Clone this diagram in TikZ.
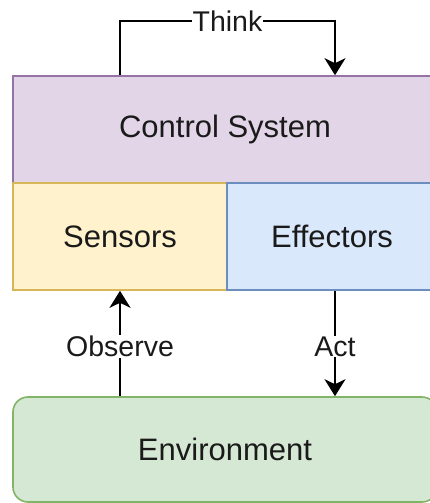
\documentclass[tikz,border=0pt]{standalone}
\usepackage{fontspec}
\setmainfont{Liberation Sans}
\usetikzlibrary{arrows.meta,calc}
\definecolor{pfill}{HTML}{E1D5E7}\definecolor{pdraw}{HTML}{9673A6}
\definecolor{yfill}{HTML}{FFF2CC}\definecolor{ydraw}{HTML}{D6B656}
\definecolor{bfill}{HTML}{DAE8FC}\definecolor{bdraw}{HTML}{6C8EBF}
\definecolor{gfill}{HTML}{D5E8D4}\definecolor{gdraw}{HTML}{82B366}
\definecolor{txt}{HTML}{1A1A1A}
\tikzset{
  box/.style={draw, line width=1.6pt, inner sep=0pt, text=txt, font=\fontsize{31}{36}\selectfont},
  conn/.style={line width=2pt, -{Stealth[length=17pt,width=21pt,inset=5pt]}},
  lbl/.style={fill=white, inner sep=1pt, text=txt, font=\fontsize{28.5}{33}\selectfont}
}
\begin{document}
\begin{tikzpicture}[x=1pt,y=-1pt]
\useasboundingbox (0,0) rectangle (430,503);
\node[box, fill=pfill, draw=pdraw, minimum width=424pt, minimum height=107pt] (ctrl) at (225,129.5) {Control System};
\node[box, fill=yfill, draw=ydraw, minimum width=214pt, minimum height=107pt] (sens) at (120,236.5) {Sensors};
\node[box, fill=bfill, draw=bdraw, minimum width=210pt, minimum height=107pt] (eff) at (332,236.5) {Effectors};
\node[box, fill=gfill, draw=gdraw, rounded corners=15pt, minimum width=424pt, minimum height=105pt] (env) at (225,449.5) {Environment};
\draw[conn] (sens.center |- ctrl.north) -- ++(0,-54) -| node[pos=0.25, lbl] {Think} ($(eff.center |- ctrl.north)+(3,0)$);
\draw[conn] (sens.center |- env.north) -- node[lbl, yshift=-3pt] {Observe} (sens.south);
\draw[conn] ($(eff.south)+(3,0)$) -- node[lbl, yshift=-3pt] {Act} ($(eff.center |- env.north)+(3,0)$);
\end{tikzpicture}
\end{document}
